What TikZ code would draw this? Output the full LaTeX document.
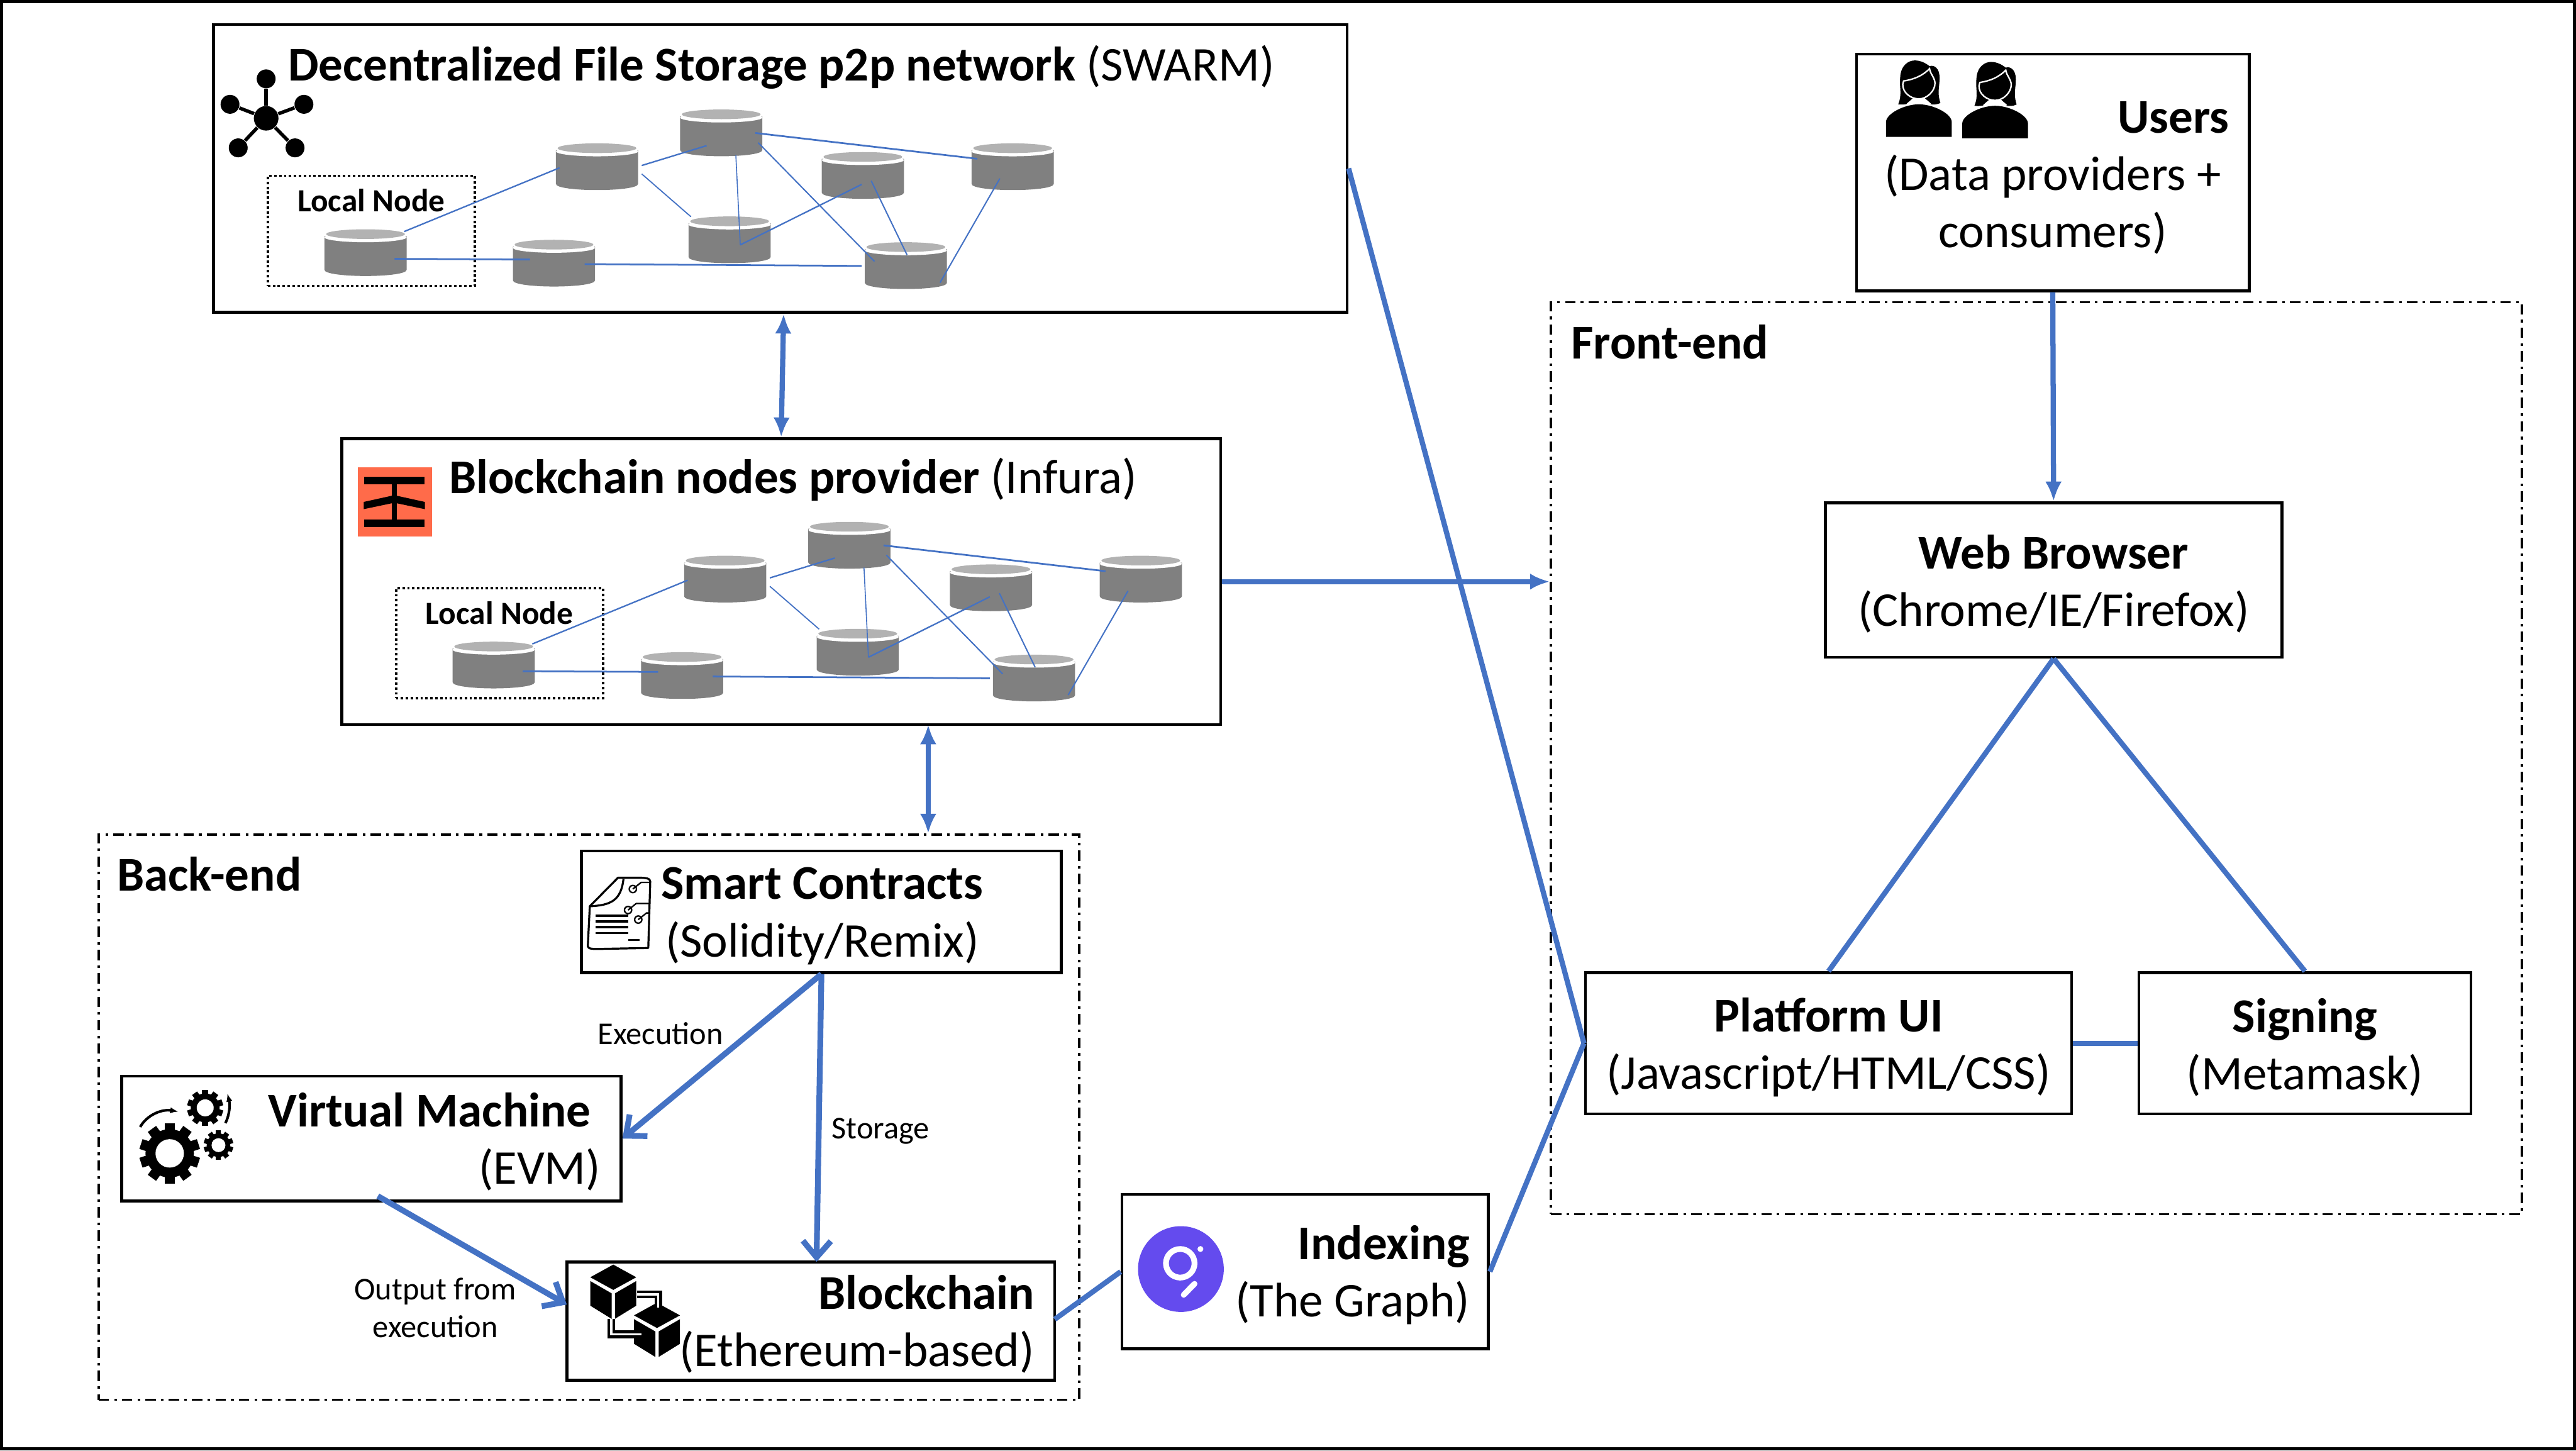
\documentclass[tikz,border=0pt]{standalone}
\usepackage{fontspec}
\setmainfont{Carlito}
\usepackage{xcolor}
\usetikzlibrary{arrows.meta, positioning, calc}
\definecolor{linkblue}{HTML}{4472C4}
\definecolor{drumgrey}{HTML}{808080}
\definecolor{drumtop}{HTML}{B2B2B2}
\definecolor{infuraorange}{HTML}{FF6B4A}
\definecolor{graphpurple}{HTML}{644BEE}
\newcommand{\firstline}{\rule{0pt}{14.6pt}}

\tikzset{
  drum/.pic={
    \fill[drumgrey] (-25,-10) -- (-25,10.5) .. controls (-25,13) and (-12,14.25) .. (0,14.25)
      .. controls (12,14.25) and (25,13) .. (25,10.5) -- (25,-10) -- cycle;
    \fill[white] (0,-9.3) ellipse [x radius=0.5cm, y radius=0.06cm];
    \fill[drumtop] (0,-11.25) ellipse [x radius=0.48cm, y radius=0.059cm];
  },
  gear/.pic={
    \fill (0,0) circle (8);
    \foreach \a in {0,36,...,324} {
      \fill[rotate=\a] (-1.7,-10) rectangle (1.7,-7);
    }
    \fill[white] (0,0) circle (4.7);
  },
  cube/.pic={
    \fill (0,0) -- (14,7.7) -- (0,15.4) -- (-14,7.7) -- cycle;
    \fill (-14,10) -- (-1,17.5) -- (-1,33) -- (-14,25) -- cycle;
    \fill (14,10) -- (1,17.5) -- (1,33) -- (14,25) -- cycle;
  },
  woman/.pic={
    \fill (-12.6,-19.8) .. controls (-10,-26) and (-12,-30) .. (-11.4,-36)
      .. controls (-11,-44) and (-6,-46.5) .. (-2.5,-46.5)
      .. controls (1,-46.5) and (4,-45) .. (6.5,-43) .. controls (9,-44) and (12.6,-42) .. (12.6,-36)
      .. controls (12.6,-30) and (11,-27) .. (13.1,-20.6)
      .. controls (11,-19.6) and (9,-19.6) .. (7.4,-19.8) -- (3.3,-22.8) -- (-3.3,-22.8) -- (-7.4,-20)
      .. controls (-9,-19.6) and (-11,-19.6) .. (-12.6,-19.8) -- cycle;
    \fill[white] (-3.6,-23.5) -- (3.6,-23.5) -- (7.4,-20.2) -- (-7.4,-20.2) -- cycle;
    \filldraw[draw=white, line width=0.5pt] (-9.3,-34) .. controls (-3,-35) and (2,-37) .. (6.5,-41.5)
      .. controls (7,-38) and (9.8,-36) .. (9.8,-32.5) .. controls (9.8,-28) and (5,-23.1) .. (0,-23.1)
      .. controls (-5,-23.1) and (-10,-27) .. (-9.8,-32) -- cycle;
    \fill (-20,0) -- (-20,-9) .. controls (-20,-14) and (-9,-19.8) .. (0,-19.8)
      .. controls (9,-19.8) and (20,-14) .. (20,-9) -- (20,0) -- cycle;
  },
  nodenet/.pic={
    \node[localbox] (box) at (3.5,-13.25) {};
    \node[smalltext, font=\fontsize{11.2}{13}\selectfont\bfseries] (title) at (3.5,-31.75) {Local Node};
    \foreach \n/\x/\y in {l/0/0, b/114.7/6.4, c/140.9/-52.3, d/216.5/-72.9,
                          e/221.6/-7.8, f/302.7/-47, g/328.9/7.9, h/393.9/-52.3} {
      \node[drumslot] (\n) at (\x,\y) {};
      \pic at (\x,\y) {drum};
    }
    \foreach \a/\ax/\ay/\b/\bx/\by/\w in {
      l/23.5/-12.8/c/-22.8/0.7/0.5, l/17.7/3.8/b/-14.6/-2.2/0.6, b/18.7/0.6/g/-26.9/0.2/0.6,
      c/27.2/-0.7/d/-8.9/7.8/0.5, c/27.2/4.4/e/-23.5/-14/0.4, d/20.8/0.1/h/-21.5/-4.8/0.6,
      d/8.9/13.6/e/6.5/3.1/0.35, d/22.5/6/g/-19.1/-2.5/0.45, e/6.5/3.1/f/-0.7/5.5/0.5,
      f/5.1/3.3/g/0.7/-6.5/0.45, h/-7.8/7.2/g/20.8/10.4/0.45} {
      \draw[linkblue, line width=\w pt] ([shift={(\ax,\ay)}]\a.center) -- ([shift={(\bx,\by)}]\b.center);
    }
  },
}

\begin{document}
\begin{tikzpicture}[
  x=0.02cm, y=-0.02cm,
  boxsize/.style 2 args={minimum width=#1*0.02cm, minimum height=#2*0.02cm},
  box/.style={draw, line width=1pt, inner sep=0pt},
  groupbox/.style={draw, line width=0.8pt, inner sep=0pt, dash pattern=on 3.6pt off 1.8pt on 0.9pt off 1.8pt},
  localbox/.style={draw, line width=0.85pt, dash pattern=on 0.85pt off 0.85pt, inner sep=0pt, boxsize={126}{67}},
  drumslot/.style={inner sep=0pt, boxsize={50}{28.5}},
  bigtext/.style={inner sep=0pt, font=\fontsize{16.8}{19.9}\selectfont},
  smalltext/.style={inner sep=0pt, align=center, font=\fontsize{11}{13.1}\selectfont},
  link/.style={linkblue, line width=1.8pt},
  arr/.style={link, -{Latex[length=0.24cm, width=0.2cm]}},
  arrboth/.style={link, {Latex[length=0.24cm, width=0.2cm]}-{Latex[length=0.24cm, width=0.2cm]}},
  flow/.style={linkblue, line width=2pt, -{Straight Barb[length=0.2cm, width=0.34cm]}},
  sat/.style={circle, fill, inner sep=0pt, minimum size=0.23cm},
]
  \useasboundingbox (0,0) rectangle (1568,882.8);
  \draw[line width=1pt] (0.9,0.9) rectangle (1567.1,881.9);

  % network boxes
  \node[box, boxsize={690}{175}] (swarm) at (475,102.5) {};
  \node[bigtext, anchor=west] (swarmtitle) at (175,41) {\textbf{Decentralized File Storage p2p network} (SWARM)};
  \pic (sw) at (222.5,153.75) {nodenet};

  \node[box, boxsize={535}{174}] (infura) at (475.5,354) {};
  \node[bigtext, anchor=west] (infuratitle) at (273,292) {\textbf{Blockchain nodes provider} (Infura)};
  \pic (inf) at (300.5,404.75) {nodenet};

  % swarm icon
  \node[circle, fill, inner sep=0pt, minimum size=0.3cm] (nethub) at (162,72) {};
  \foreach \name/\x/\y in {neta/162/48, netb/140/63.5, netc/185/63.5, netd/145/90, nete/179.6/90} {
    \node[sat] (\name) at (\x,\y) {};
    \draw[line width=1.2pt] (nethub) -- (\name);
  }

  % infura icon
  \fill[infuraorange] (218,284.4) rectangle (263,326.6);
  \fill (221.6,290.3) rectangle (258.4,294.8);
  \fill (221.6,316.2) rectangle (258.4,320.9);
  \fill (238.6,290.3) rectangle (241.4,320.9);
  \fill (240,301.4) -- (258.6,305.5) -- (258.6,309.9) -- (240,306) -- (221.4,309.9) -- (221.4,305.5) -- cycle;

  % back-end
  \node[groupbox, boxsize={597}{344}] (backend) at (358.5,680) {};
  \node[bigtext, anchor=west] (backendtitle) at (71,532) {\textbf{Back-end}};

  \node[box, boxsize={292}{74}] (smart) at (500,555) {};
  \node[bigtext, align=center] (smarttext) at (500.5,557.5) {\textbf{Smart Contracts}\\(Solidity/Remix)};

  \node[box, boxsize={304}{76}] (vm) at (226,693) {};
  \node[bigtext, align=right, anchor=east] (vmtext) at (366,695) {\textbf{Virtual Machine}\hspace*{0.12cm}\\(EVM)};

  \node[box, boxsize={297}{72}] (chain) at (493.5,804) {};
  \node[bigtext, align=right, anchor=east] (chaintext) at (630,806) {\textbf{Blockchain}\\(Ethereum-based)};

  \node[box, boxsize={223}{94}] (indexing) at (794.5,774) {};
  \node[bigtext, align=right, anchor=east] (indexingtext) at (895,776) {\textbf{Indexing}\\(The Graph)};

  \node[smalltext] (exectext) at (402,629) {Execution};
  \node[smalltext] (storetext) at (536,688.5) {Storage};
  \node[smalltext] (outtext) at (265,796) {Output from\\execution};

  % contract icon
  \draw[line width=0.7pt, line join=round] (376.2,534.2) -- (359,551.6) -- (357.8,575.9)
    .. controls (358,577.5) and (360,577.8) .. (368,577.5) -- (394.6,577) -- (395.8,536.5)
    .. controls (395.8,534.6) and (393,534.2) .. (388.5,534.2) -- cycle;
  \draw[line width=0.7pt] (359,551.6) .. controls (372,551) and (378,548) .. (379.5,535);
  \foreach \y in {557.4,560.8,564.3,567.8} {
    \draw[line width=0.7pt] (362.7,\y) -- (382.3,\y);
  }
  \draw[line width=0.7pt] (382.3,572) -- (389.3,572);
  \foreach \x/\y in {385.2/541.1, 382.3/553.9, 388.5/559.7} {
    \draw[line width=0.5pt] (\x,\y) circle (2.2);
    \draw[line width=0.5pt] (\x,\y) -- ++(5,-4) -- (395.8,\y-4);
  }

  % gears icon
  \pic (biggear) at (103.3,702) [scale=1.84] {gear};
  \pic (topgear) at (124.9,674.3) [scale=1.1] {gear};
  \pic (sidegear) at (133,697) [scale=0.9] {gear};
  \draw[line width=0.9pt, -{Latex[length=0.1cm]}] (85.3,685.9) .. controls (90,678) and (99,675) .. (108.6,676.6);
  \draw[line width=0.9pt, -{Latex[length=0.1cm]}] (137.2,683.6) .. controls (140,678) and (140,672) .. (138.4,665.5);

  % chain icon
  \pic (cubeone) at (373.3,769.7) {cube};
  \pic (cubetwo) at (399.9,792.9) {cube};
  \draw[line width=1pt, double=white, double distance=0.7pt] (387.6,787.8) -- (400.7,787.8) -- (400.7,795.9);
  \draw[line width=1pt, double=white, double distance=0.7pt] (372.1,802.8) -- (372.1,812.1) -- (390.5,812.1);

  % graph icon
  \fill[graphpurple] (718.8,772.4) circle (26.1);
  \draw[white, line width=2pt] (718.4,768.9) circle (8.7);
  \fill[white] (730.7,760.2) circle (1.8);
  \draw[white, line width=2pt, line cap=round] (720.5,788.1) -- (727.1,781.4);

  % front-end
  \node[groupbox, boxsize={591}{555}] (frontend) at (1239.5,461.5) {};
  \node[bigtext, anchor=west] (frontendtitle) at (956,208) {\textbf{Front-end}};

  \node[box, boxsize={239}{144}, bigtext, align=center] (users) at (1249.5,105)
       {\firstline\hspace*{2.94cm}\textbf{Users}\\(Data providers +\\consumers)};
  \pic (userone) at (1168,83.3) {woman};
  \pic (usertwo) at (1214.4,84.2) {woman};
  \node[box, boxsize={278}{94}, bigtext, align=center] (web) at (1250,353)
       {\firstline\textbf{Web Browser}\\(Chrome/IE/Firefox)};
  \node[box, boxsize={296}{86}, bigtext, align=center] (platform) at (1113,635)
       {\firstline\textbf{Platform UI}\\(Javascript/HTML/CSS)};
  \node[box, boxsize={202}{86}, bigtext, align=center] (signing) at (1403,635)
       {\firstline\textbf{Signing}\\(Metamask)};

  % connectors
  \coordinate (swarmfoot) at (477,191);
  \coordinate (infuralink) at (565,441);
  \coordinate (chaintop) at (497,768);
  \coordinate (chainside) at (345,794);
  \coordinate (vmfoot) at (230,728);
  \coordinate (chainout) at (642,803);
  \draw[arrboth] (swarmfoot) -- (infura.north);
  \draw[arrboth] (infuralink) -- (infuralink |- backend.north);
  \draw[arr] (infura.east) -- (infura.east -| frontend.west);
  \draw[link] (swarm.east) -- (platform.west);
  \draw[link] (indexing.east) -- (platform.west);
  \draw[link] (chainout) -- (indexing.west);
  \draw[arr] (users.south) -- (web.north);
  \draw[link] (web.south) -- (platform.north);
  \draw[link] (web.south) -- (signing.north);
  \draw[link] (platform.east) -- (signing.west);
  \draw[flow] (smart.south) -- (vm.east);
  \draw[flow] (smart.south) -- (chaintop);
  \draw[flow] (vmfoot) -- (chainside);
\end{tikzpicture}
\end{document}
